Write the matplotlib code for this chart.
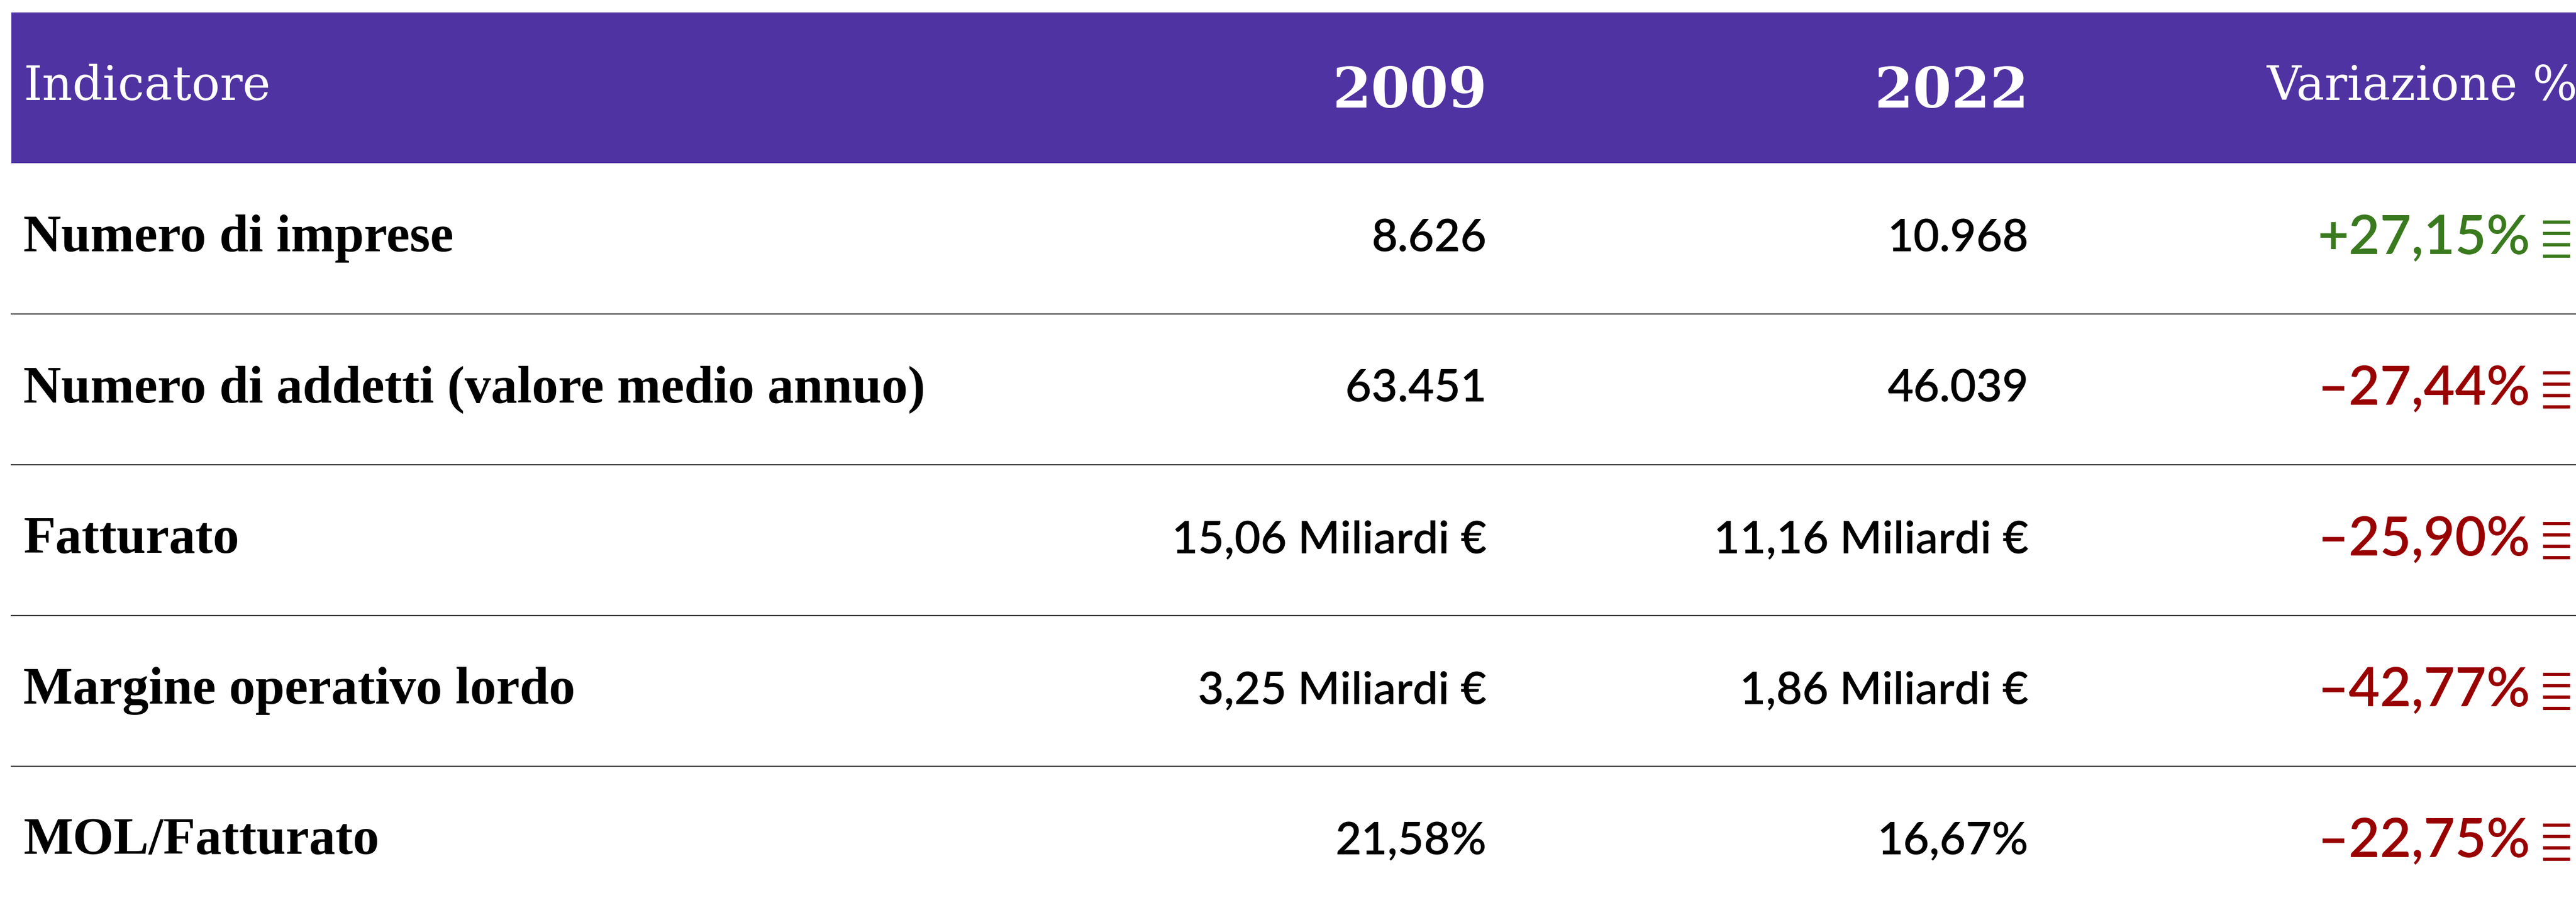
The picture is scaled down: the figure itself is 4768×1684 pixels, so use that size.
import matplotlib
matplotlib.use("Agg")
import matplotlib.pyplot as plt

# ---- data ----
header = ["Indicatore", "2009", "2022", "Variazione %"]
indicators = ["Numero di imprese",
              "Numero di addetti (valore medio annuo)",
              "Fatturato",
              "Margine operativo lordo",
              "MOL/Fatturato"]
values_2009 = ["8.626", "63.451", "15,06 Miliardi €", "3,25 Miliardi €", "21,58%"]
values_2022 = ["10.968", "46.039", "11,16 Miliardi €", "1,86 Miliardi €", "16,67%"]
variation = [27.15, -27.44, -25.90, -42.77, -22.75]

# ---- style ----
W, H = 4768, 1684
PURPLE = "#5033A2"
GREEN = "#3A7A1E"
RED = "#990000"
SERIF = ["DejaVu Serif"]
LSERIF = ["Liberation Serif", "DejaVu Serif"]
SANS = ["Lato", "DejaVu Sans"]

fig = plt.figure(figsize=(W / 100, H / 100), dpi=100)
ax = fig.add_axes([0, 0, 1, 1])
ax.set_xlim(0, W)
ax.set_ylim(H, 0)
ax.axis("off")

left = 21
head_top, head_bot = 23, 302
row_h = 279
x_label = 43
x_c1 = 2752
x_c2 = 3755
x_c3 = 4683
x_icon = 4707

# header band
ax.add_patch(plt.Rectangle((left, head_top), W - left, head_bot - head_top,
                           color=PURPLE, lw=0, zorder=0))
hy = 160
ax.text(x_label, hy, header[0], color="white", fontsize=63, family=SERIF,
        ha="left", va="center")
ax.text(x_c1, hy + 10, header[1], color="white", fontsize=74, family=SERIF,
        fontweight="bold", ha="right", va="center")
ax.text(x_c2, hy + 10, header[2], color="white", fontsize=74, family=SERIF,
        fontweight="bold", ha="right", va="center")
ax.text(4196, hy, header[3], color="white", fontsize=63, family=SERIF,
        ha="left", va="center", clip_on=True)

for i, name in enumerate(indicators):
    yc = head_bot + row_h * i + row_h / 2
    ax.text(x_label, yc, name, color="black", fontsize=70, family=LSERIF,
            fontweight="bold", ha="left", va="center")
    ax.text(x_c1, yc, values_2009[i], color="black", fontsize=60, family=SANS,
            fontweight="semibold", ha="right", va="center")
    ax.text(x_c2, yc, values_2022[i], color="black", fontsize=60, family=SANS,
            fontweight="semibold", ha="right", va="center")
    v = variation[i]
    col = GREEN if v > 0 else RED
    txt = ("+" if v > 0 else "\u2013") + f"{abs(v):.2f}".replace(".", ",") + "%"
    ax.text(x_c3, yc, txt, color=col, fontsize=72, family=SANS,
            fontweight="semibold", ha="right", va="center")
    # icon: four horizontal bars
    for k in range(4):
        yy = yc - 31 + k * 21
        ax.plot([x_icon, x_icon + 50], [yy, yy], color=col, lw=4.3,
                solid_capstyle="butt")
    if i < len(indicators) - 1:
        yl = head_bot + row_h * (i + 1)
        ax.plot([left, W], [yl, yl], color="#333333", lw=1.5)

fig.savefig("out.png", dpi=100, facecolor="white")
